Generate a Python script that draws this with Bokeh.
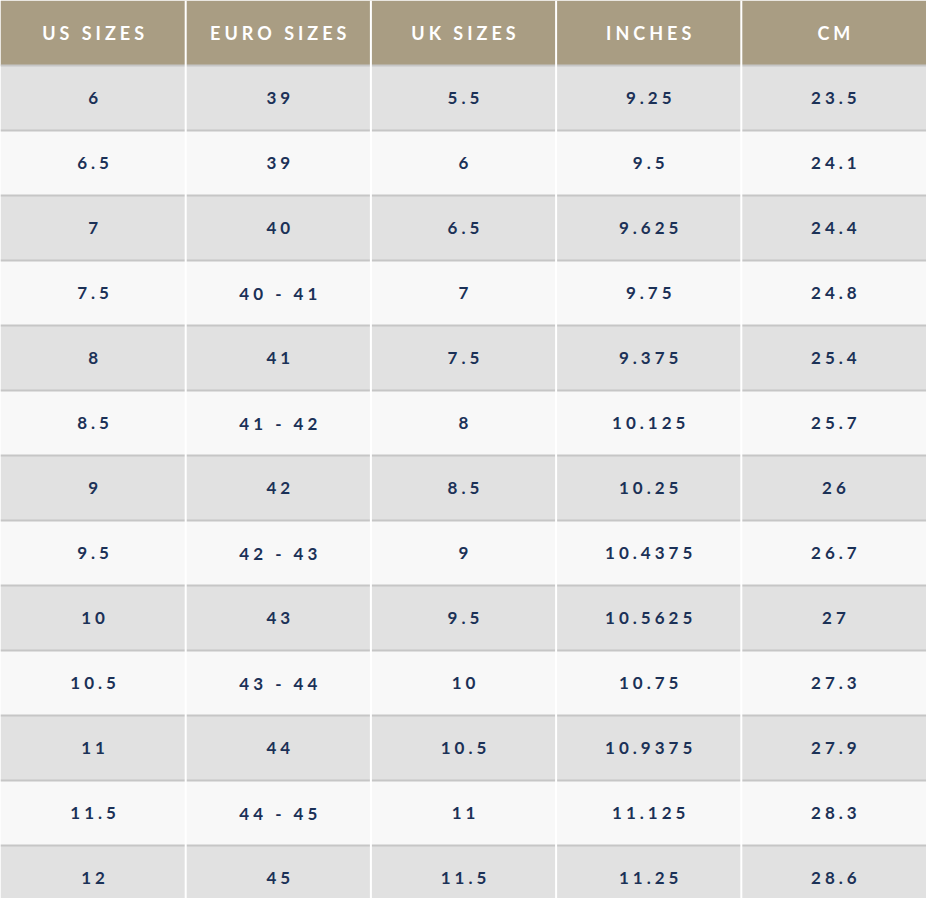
from bokeh.plotting import figure
from bokeh.models import ColumnDataSource, Range1d
from bokeh.core.properties import value
from bokeh.embed import file_html
from bokeh.resources import INLINE

headers = ["US SIZES", "EURO SIZES", "UK SIZES", "INCHES", "CM"]
us_sizes = ["6", "6.5", "7", "7.5", "8", "8.5", "9", "9.5", "10", "10.5", "11", "11.5", "12"]
euro_sizes = ["39", "39", "40", "40 - 41", "41", "41 - 42", "42", "42 - 43", "43", "43 - 44", "44", "44 - 45", "45"]
uk_sizes = ["5.5", "6", "6.5", "7", "7.5", "8", "8.5", "9", "9.5", "10", "10.5", "11", "11.5"]
inches = ["9.25", "9.5", "9.625", "9.75", "9.375", "10.125", "10.25", "10.4375", "10.5625", "10.75", "10.9375", "11.125", "11.25"]
cm = ["23.5", "24.1", "24.4", "24.8", "25.4", "25.7", "26", "26.7", "27", "27.3", "27.9", "28.3", "28.6"]

columns = [us_sizes, euro_sizes, uk_sizes, inches, cm]
n_rows = len(us_sizes)
n_cols = len(headers)

HEADER_BG = "#a99d83"
ROW_A = "#e1e1e1"
ROW_B = "#f8f8f8"
TEXT = "#1b3157"
SEP = "#c6c6c6"

W, H = 926, 898
ROW_PX = 65.0
LS = 4.0  # letter spacing in px

p = figure(width=W, height=H, output_backend="svg", toolbar_location=None,
           x_range=Range1d(0, n_cols), y_range=Range1d(H / ROW_PX, 0),
           min_border=0, background_fill_color="white", border_fill_color="white")
p.axis.visible = False
p.grid.visible = False
p.outline_line_color = None
p.styles = {"letter-spacing": f"{LS}px"}

# cells
left, right, top, bottom, fill = [], [], [], [], []
for c in range(n_cols):
    left.append(c); right.append(c + 1); top.append(0); bottom.append(1); fill.append(HEADER_BG)
    for r in range(n_rows):
        left.append(c); right.append(c + 1); top.append(r + 1); bottom.append(r + 2)
        fill.append(ROW_A if r % 2 == 0 else ROW_B)
p.quad(left=left, right=right, top=top, bottom=bottom, fill_color=fill, line_color=None)

# horizontal separators
p.segment(x0=[0] * n_rows, x1=[n_cols] * n_rows,
          y0=[r + 1 for r in range(n_rows)], y1=[r + 1 for r in range(n_rows)],
          line_color=SEP, line_width=2)
# vertical separators
p.segment(x0=list(range(1, n_cols)), x1=list(range(1, n_cols)),
          y0=[0] * (n_cols - 1), y1=[n_rows + 1] * (n_cols - 1),
          line_color="white", line_width=2)


def shift(t):
    # compensate the letter spacing so that the text stays centred
    return -(len(t) - 1) * LS / 2.0


# header text
hsrc = ColumnDataSource(dict(x=[c + 0.5 for c in range(n_cols)], y=[0.5] * n_cols,
                             t=headers, dx=[shift(t) for t in headers]))
p.text(x="x", y="y", text="t", source=hsrc, x_offset="dx", text_color="white",
       text_align="center", text_baseline="middle", text_font=value("Lato"),
       text_font_style="bold", text_font_size="18px")

# body text
xs, ys, ts = [], [], []
for c, col in enumerate(columns):
    for r, v in enumerate(col):
        xs.append(c + 0.5); ys.append(r + 1.5); ts.append(v)
bsrc = ColumnDataSource(dict(x=xs, y=ys, t=ts, dx=[shift(t) for t in ts]))
p.text(x="x", y="y", text="t", source=bsrc, x_offset="dx", text_color=TEXT,
       text_align="center", text_baseline="middle", text_font=value("Lato"),
       text_font_style="bold", text_font_size="17px")

open("out.html", "w").write(file_html(p, INLINE))
